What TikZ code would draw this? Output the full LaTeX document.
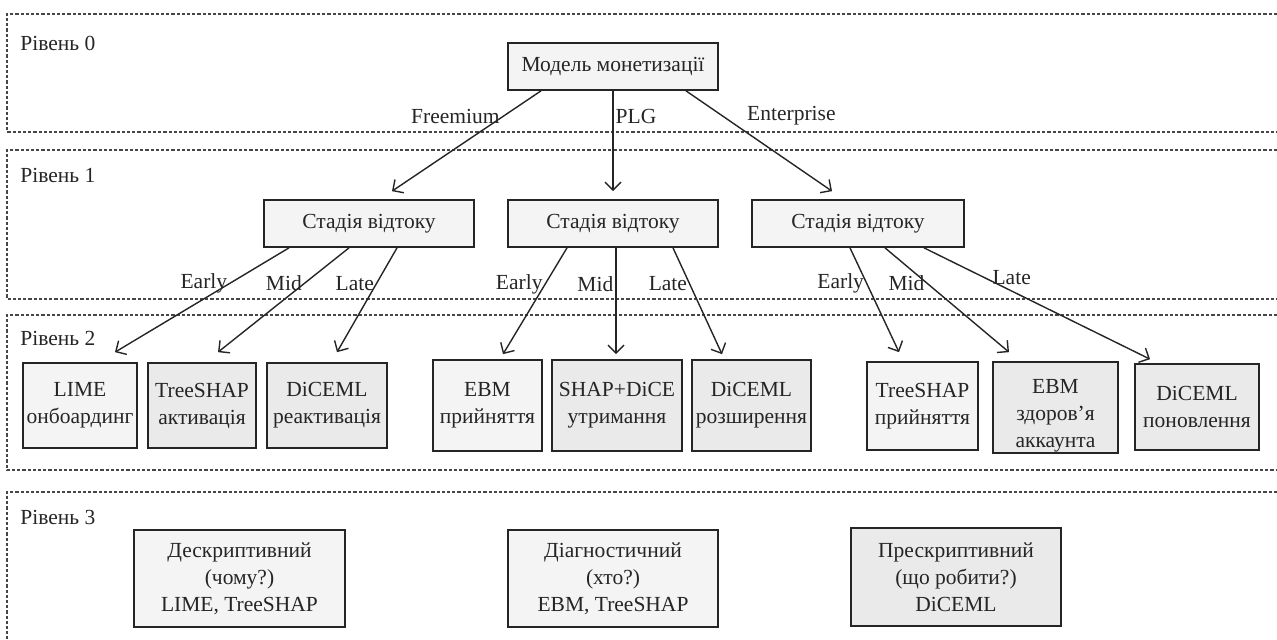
\documentclass[tikz,border=0pt]{standalone}
\usepackage{fontspec}
\setmainfont{Liberation Serif}
\usetikzlibrary{arrows.meta}
\definecolor{lite}{HTML}{F4F4F4}
\definecolor{darkf}{HTML}{EAEAEA}
\definecolor{ink}{HTML}{252525}
\begin{document}
\begin{tikzpicture}[x=0.5pt,y=-0.5pt,
  font=\fontsize{10.75}{13.5}\selectfont,
  box/.style={draw=ink, line width=0.85pt, fill=lite, align=center, inner sep=0pt, text=ink},
  dbox/.style={box, fill=darkf},
  arr/.style={draw=ink, line width=0.7pt, -{Straight Barb[length=4pt,width=8pt]}},
  band/.style={draw=ink!85, line width=0.55pt, dash pattern=on 1.6pt off 1pt},
  lvl/.style={anchor=west, text=ink, inner sep=0pt},
  lab/.style={text=ink, inner sep=1pt}]
\useasboundingbox (0,0) rectangle (1277,639);

% bands
\draw[band] (1277,14) -- (7,14) -- (7,132) -- (1277,132);
\draw[band] (1277,150) -- (7,150) -- (7,299) -- (1277,299);
\draw[band] (1277,315) -- (7,315) -- (7,470) -- (1277,470);
\draw[band] (1277,492) -- (7,492) -- (7,639);

\node[lvl] (l0) at (20,43) {Рівень 0};
\node[lvl] (l1) at (20,175) {Рівень 1};
\node[lvl] (l2) at (20,338) {Рівень 2};
\node[lvl] (l3) at (20,517) {Рівень 3};

% level 0
\node[box, minimum width=105pt, minimum height=23.5pt] (root) at (613,66.5) {Модель монетизації};

% level 1
\node[box, minimum width=105pt, minimum height=23.5pt] (s1) at (369,223.5) {Стадія відтоку};
\node[box, minimum width=105pt, minimum height=23.5pt] (s2) at (613,223.5) {Стадія відтоку};
\node[box, minimum width=106pt, minimum height=23.5pt] (s3) at (858,223.5) {Стадія відтоку};

% level 2
\node[box,  minimum width=57pt,   minimum height=42.5pt] (lime) at (80,405.5) {LIME\\онбоардинг};
\node[dbox, minimum width=54pt,   minimum height=42.5pt] (ts1)  at (202,405.5) {TreeSHAP\\активація};
\node[dbox, minimum width=60pt,   minimum height=42.5pt] (dc1)  at (327,405.5) {DiCEML\\реактивація};
\node[box,  minimum width=54.5pt, minimum height=45.5pt] (ebm1) at (487.5,405.5) {EBM\\прийняття};
\node[dbox, minimum width=65pt,   minimum height=45.5pt] (sd)   at (617,405.5) {SHAP+DiCE\\утримання};
\node[dbox, minimum width=59.5pt, minimum height=45.5pt] (dc2)  at (751.5,405.5) {DiCEML\\розширення};
\node[box,  minimum width=55.5pt, minimum height=44pt]   (ts2)  at (922.5,406) {TreeSHAP\\прийняття};
\node[dbox, minimum width=62.5pt, minimum height=45.5pt] (ebm2) at (1055.5,407.5) {};
\node[text=ink, align=center, inner sep=0pt] (ebm2t) at (1055.5,416) {EBM\\здоров’я\\аккаунта};
\node[dbox, minimum width=62pt,   minimum height=43pt]   (dc3)  at (1197,407) {DiCEML\\поновлення};

% level 3
\node[box,  minimum width=105.5pt, minimum height=48.5pt] (d1) at (239.5,578.5) {Дескриптивний\\(чому?)\\LIME, TreeSHAP};
\node[box,  minimum width=105pt,   minimum height=48.5pt] (d2) at (613,578.5) {Діагностичний\\(хто?)\\EBM, TreeSHAP};
\node[dbox, minimum width=105pt,   minimum height=49pt]   (d3) at (956,577) {Прескриптивний\\(що робити?)\\DiCEML};

% level 0 -> 1
\draw[arr] ([xshift=-36pt]root.south) -- node[lab,pos=0.26,anchor=east] {Freemium} ([xshift=11.5pt,yshift=4pt]s1.north);
\draw[arr] (root.south) -- node[lab,pos=0.26,anchor=west] {PLG} ([yshift=4pt]s2.north);
\draw[arr] ([xshift=36.5pt]root.south) -- node[lab,pos=0.25,anchor=west,xshift=11pt] {Enterprise} ([xshift=-13pt,yshift=4pt]s3.north);

% level 1 -> 2
\draw[arr] ([xshift=-40pt]s1.south) -- node[lab,pos=0.34,anchor=east] {Early} ([xshift=17.5pt,yshift=5pt]lime.north);
\draw[arr] ([xshift=-10pt]s1.south) -- node[lab,pos=0.34,anchor=east] {Mid} ([xshift=8pt,yshift=5pt]ts1.north);
\draw[arr] ([xshift=14pt]s1.south) -- node[lab,pos=0.34,anchor=east] {Late} ([xshift=5pt,yshift=5pt]dc1.north);

\draw[arr] ([xshift=-23pt]s2.south) -- node[lab,pos=0.34,anchor=east] {Early} ([xshift=7.75pt,yshift=2.5pt]ebm1.north);
\draw[arr] ([xshift=1.5pt]s2.south) -- node[lab,pos=0.34,anchor=east] {Mid} ([xshift=-0.5pt,yshift=2.5pt]sd.north);
\draw[arr] ([xshift=30pt]s2.south) -- node[lab,pos=0.34,anchor=east] {Late} ([xshift=-14.75pt,yshift=2.5pt]dc2.north);

\draw[arr] ([xshift=-4pt]s3.south) -- node[lab,pos=0.34,anchor=east] {Early} ([xshift=-11.75pt,yshift=4.5pt]ts2.north);
\draw[arr] ([xshift=13.5pt]s3.south) -- node[lab,pos=0.34,anchor=east] {Mid} ([xshift=-23.25pt,yshift=4.5pt]ebm2.north);
\draw[arr] ([xshift=33pt]s3.south) -- node[lab,pos=0.265,anchor=west,xshift=3pt] {Late} ([xshift=-23.5pt,yshift=2pt]dc3.north);
\end{tikzpicture}
\end{document}
